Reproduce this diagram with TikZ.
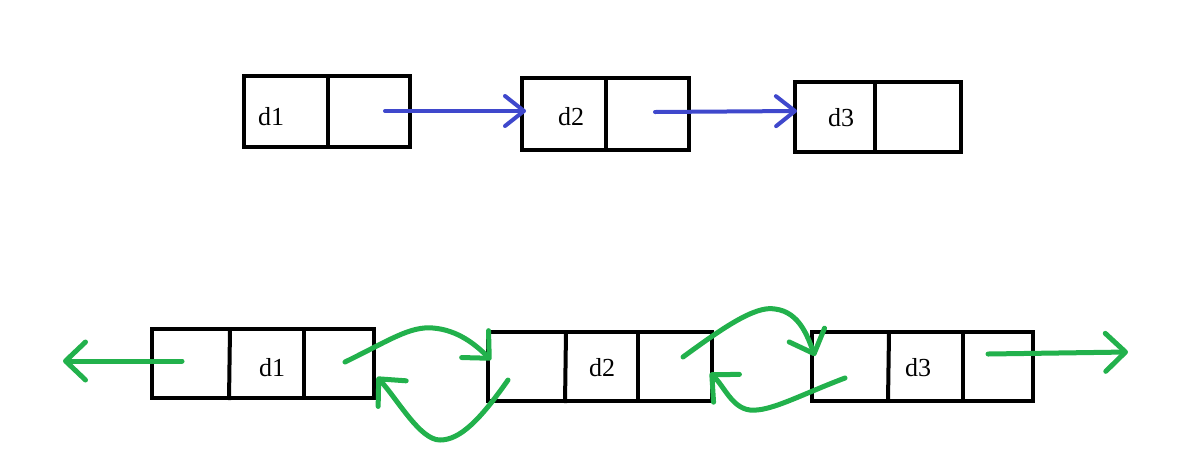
\documentclass[tikz,border=0pt]{standalone}
\usepackage{fontspec}
\setmainfont{Liberation Serif}
\usetikzlibrary{arrows.meta}
\definecolor{blueL}{RGB}{63,72,204}
\definecolor{greenL}{RGB}{34,177,76}
\tikzset{
  box/.style={draw=black,line width=4pt,inner sep=0pt,outer sep=0pt},
  div/.style={draw=black,line width=4pt},
  lbl/.style={font=\fontsize{26}{26}\selectfont,inner sep=0pt},
  bluearr/.style={draw=blueL,line width=4pt,line cap=round,-{Straight Barb[length=19pt,width=30pt,line cap=round,line join=round]}},
  greenarr/.style={draw=greenL,line width=5pt,line cap=round,-{Straight Barb[length=20pt,width=38pt,line cap=round,line join=round]}},
}
\begin{document}
\begin{tikzpicture}[x=1pt,y=-1pt]
\useasboundingbox (0,0) rectangle (1190,467);
% top row
\node[box,minimum width=166pt,minimum height=71pt] (t1) at (327,111.5) {};
\node[box,minimum width=167pt,minimum height=72pt] (t2) at (605.5,114) {};
\node[box,minimum width=166pt,minimum height=70pt] (t3) at (878,117) {};
\draw[div] (328,76) -- (328,147);
\draw[div] (606,78) -- (606,152);
\draw[div] (875,82) -- (875,152);
\node[lbl] (t1l) at (271,117) {d1};
\node[lbl] (t2l) at (571,117) {d2};
\node[lbl] (t3l) at (841,118) {d3};
\coordinate (t1s) at (385,111);
\coordinate (t2e) at (526,111);
\coordinate (t2s) at (655,112);
\coordinate (t3e) at (797,111);
\draw[bluearr] (t1s) -- (t2e);
\draw[bluearr] (t2s) -- (t3e);
% bottom row
\node[box,minimum width=222pt,minimum height=69pt] (b1) at (263,363.5) {};
\node[box,minimum width=224pt,minimum height=69pt] (b2) at (600,366.5) {};
\node[box,minimum width=221pt,minimum height=69pt] (b3) at (922.5,366.5) {};
\draw[div] (230,329) -- (229,400);
\draw[div] (304,329) -- (304,398);
\draw[div] (566,332) -- (565,403);
\draw[div] (638,332) -- (638,403);
\draw[div] (889,333) -- (888,401);
\draw[div] (963,333) -- (963,401);
\node[lbl] (b1l) at (272,368) {d1};
\node[lbl] (b2l) at (602,368) {d2};
\node[lbl] (b3l) at (918,368) {d3};
\coordinate (L0) at (182,361);
\coordinate (L1) at (63,361);
\coordinate (R0) at (988,354);
\coordinate (R1) at (1128,352);
\draw[greenarr] (L0) -- (L1);
\draw[greenarr] (R0) -- (R1);
\coordinate (c1s) at (345,362);
\coordinate (c1e) at (491,360);
\draw[greenarr] (c1s) .. controls (390,340) and (410,326) .. (433,328) .. controls (458,330) and (476,345) .. (c1e);
\coordinate (c2s) at (508,380);
\coordinate (c2e) at (377,377);
\draw[greenarr] (c2s) .. controls (480,420) and (460,440) .. (440,440) .. controls (420,440) and (398,400) .. (c2e);
\coordinate (c3s) at (683,357);
\coordinate (c3e) at (815,356);
\draw[greenarr] (c3s) .. controls (720,330) and (755,305) .. (775,309) .. controls (800,312) and (808,338) .. (c3e);
\coordinate (c4s) at (845,378);
\coordinate (c4e) at (710,373);
\draw[greenarr] (c4s) .. controls (800,395) and (770,412) .. (750,410) .. controls (732,408) and (724,386) .. (c4e);
\end{tikzpicture}
\end{document}
